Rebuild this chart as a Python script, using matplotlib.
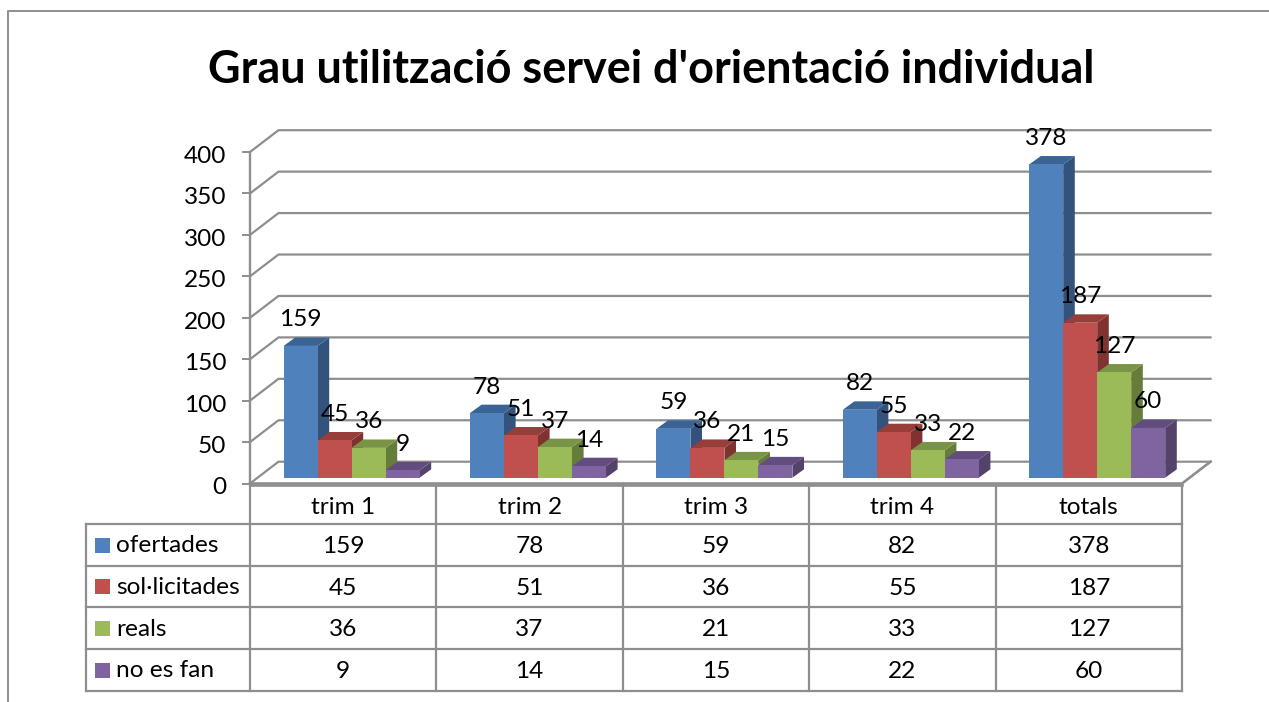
import matplotlib
matplotlib.use("Agg")
import matplotlib.pyplot as plt
import numpy as np
from matplotlib.patches import Polygon, Rectangle
from matplotlib.transforms import Affine2D

plt.rcParams["font.family"] = ["Lato", "DejaVu Sans"]

W, H = 1269, 702
TITLE = "Grau utilització servei d'orientació individual"
categories = ["trim 1", "trim 2", "trim 3", "trim 4", "totals"]
series_names = ["ofertades", "sol·licitades", "reals", "no es fan"]
ofertades = [159, 78, 59, 82, 378]
solicitades = [45, 51, 36, 55, 187]
reals = [36, 37, 21, 33, 127]
no_es_fan = [9, 14, 15, 22, 60]
y_ticks = [0, 50, 100, 150, 200, 250, 300, 350, 400]

series = [ofertades, solicitades, reals, no_es_fan]
front = ["#4F81BD", "#C0504D", "#9BBB59", "#8064A2"]
side = ["#33537C", "#7F3230", "#667C3A", "#54426B"]
top = ["#3A6496", "#973E3B", "#7A9445", "#634D7F"]
GREY = "#8E8E8E"
FS = 17.6

# plot box in pixels
L, R, Y0, Y400 = 250.0, 1182.0, 483.5, 152.0
PX = 5 / (R - L)
PY = 400 / (Y0 - Y400)

fig = plt.figure(figsize=(W / 100, H / 100), dpi=100)
bg = fig.add_axes([0, 0, 1, 1])
bg.set_xlim(0, W); bg.set_ylim(H, 0); bg.axis("off")

ax = fig.add_axes([L / W, 1 - Y0 / H, (R - L) / W, (Y0 - Y400) / H])
ax.set_xlim(0, 5); ax.set_ylim(0, 400)
ax.patch.set_alpha(0)
for s in ["top", "right"]:
    ax.spines[s].set_visible(False)
ax.spines["left"].set_color(GREY); ax.spines["left"].set_linewidth(1.7)
ax.spines["bottom"].set_visible(False)
ax.set_xticks([])
ax.set_yticks(y_ticks)
ax.tick_params(axis="y", length=6, width=1.4, color=GREY, labelsize=FS, pad=11, labelcolor="black")
for lab in ax.get_yticklabels():
    lab.set_transform(lab.get_transform() + Affine2D().translate(0, -2.5))

# back wall lines
dx, dy = 28.5 * PX, 21.8 * PY
for t in y_ticks:
    ax.plot([0, dx, 5 + dx], [t, t + dy, t + dy], color=GREY, lw=1.6, clip_on=False, zorder=1)
ax.plot([0, 5, 5 + dx], [0, 0, dy], color=GREY, lw=1.9, clip_on=False, zorder=1)

# bars, left to right so each front covers the side of the previous one
bw = 34.0 * PX
x0 = 33.6 * PX
base = 5.8 * PY
ddx, ddy = 11.6 * PX, 8.4 * PY
x = np.arange(len(categories))
for j, vals in enumerate(series):
    for i, v in enumerate(vals):
        xl = x[i] + x0 + j * bw
        xr = xl + bw
        ax.add_patch(Polygon([(xr, base), (xr + ddx, base + ddy), (xr + ddx, base + v + ddy), (xr, base + v)],
                             fc=side[j], ec="none", zorder=2 + j, clip_on=False))
        ax.add_patch(Polygon([(xl, base + v), (xl + ddx, base + v + ddy), (xr + ddx, base + v + ddy), (xr, base + v)],
                             fc=top[j], ec="none", zorder=2 + j, clip_on=False))
    ax.bar(x + x0 + (j + 0.5) * bw, vals, bw, bottom=base, color=front[j], zorder=2 + j, clip_on=False)
    for i, v in enumerate(vals):
        ax.text(x[i] + x0 + (j + 0.5) * bw, base + v + 26 * PY, str(v), ha="center", va="center",
                fontsize=FS, color="black", zorder=20, clip_on=False)

# outer frame
bg.plot([7.5, 7.5, W], [H, 10.5, 10.5], color=GREY, lw=1.4)

# data table
col_x = np.linspace(L, R, len(categories) + 1)
row_y = [484.5, 524, 565.5, 607, 649, 690.5]
for cx in col_x:
    bg.plot([cx, cx], [row_y[0], row_y[-1]], color=GREY, lw=1.6)
bg.plot([86, 86], [row_y[1], row_y[-1]], color=GREY, lw=1.6)
bg.plot([L, R], [row_y[0], row_y[0]], color=GREY, lw=1.9)
for ry in row_y[1:]:
    bg.plot([86, R], [ry, ry], color=GREY, lw=1.6)

centers = (col_x[:-1] + col_x[1:]) / 2
for cx, c in zip(centers, categories):
    bg.text(cx, (row_y[0] + row_y[1]) / 2 + 3.5, c, ha="center", va="center", fontsize=FS)
for r, (name, vals) in enumerate(zip(series_names, series)):
    cy = (row_y[r + 1] + row_y[r + 2]) / 2
    bg.add_patch(Rectangle((95, cy - 7), 15, 15, fc=front[r], ec="none"))
    bg.text(116, cy + 1, name, ha="left", va="center", fontsize=FS)
    for cx, v in zip(centers, vals):
        bg.text(cx, cy + 2, str(v), ha="center", va="center", fontsize=FS)

bg.text(651, 70, TITLE, ha="center", va="center", fontsize=32.4, fontweight="bold", color="black")

fig.savefig("out.png", dpi=100)
